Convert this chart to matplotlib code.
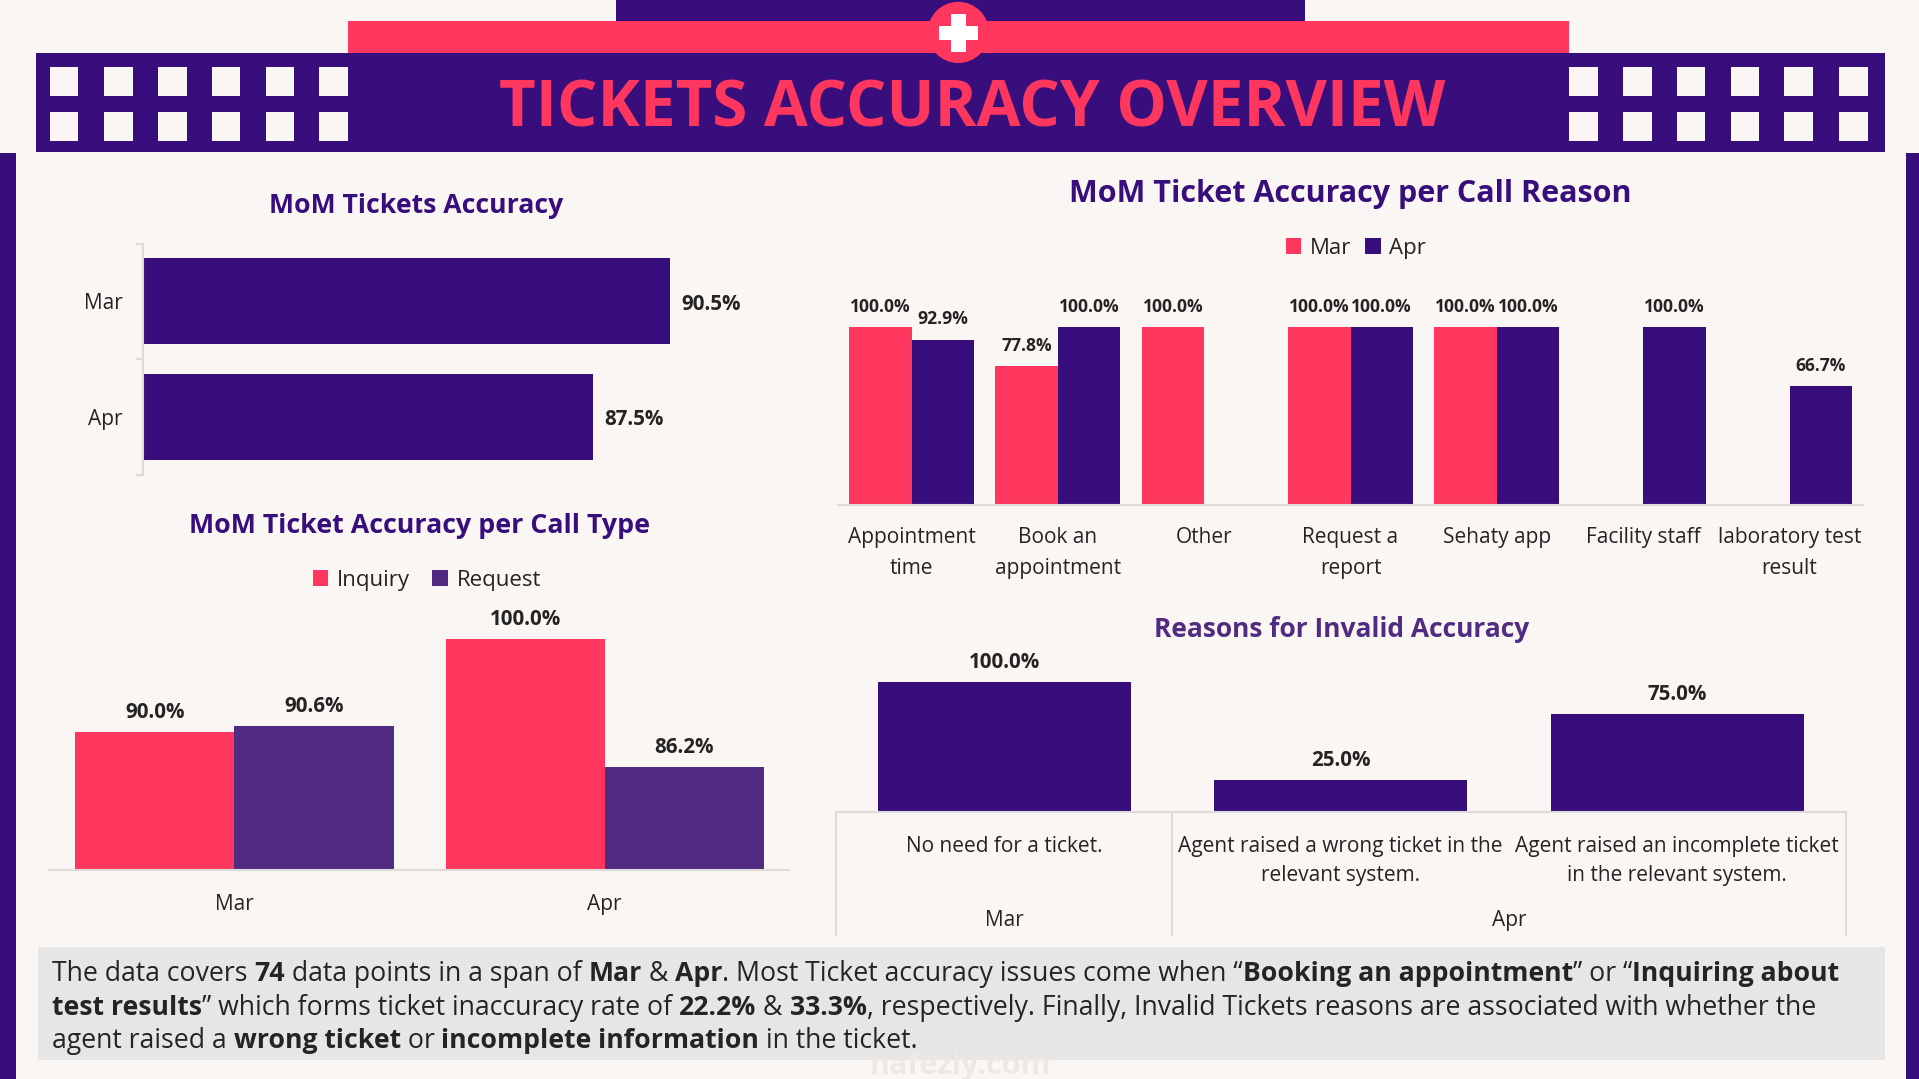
# -*- coding: utf-8 -*-
"""
tickets accuracy overview dashboard
"""
import matplotlib
matplotlib.use('Agg')
import matplotlib.pyplot as plt
import numpy as np
from matplotlib.patches import Rectangle, Ellipse

#####################
# DATA
months = ['Mar', 'Apr']
mom_accuracy = [90.5, 87.5]

call_types = ['Inquiry', 'Request']
inquiry_acc = [90.0, 100.0]
request_acc = [90.6, 86.2]

call_reasons = ['Appointment\ntime', 'Book an\nappointment', 'Other', 'Request a\nreport',
                'Sehaty app', 'Facility staff', 'laboratory test\nresult']
reason_mar = [100.0, 77.8, 100.0, 100.0, 100.0, np.nan, np.nan]
reason_apr = [92.9, 100.0, np.nan, 100.0, 100.0, 100.0, 66.7]

invalid_reasons = ['No need for a ticket.', 'Agent raised a wrong ticket in the\nrelevant system.',
                   'Agent raised an incomplete ticket\nin the relevant system.']
invalid_share = [100.0, 25.0, 75.0]
invalid_months = ['Mar', 'Apr']

summary_lines = [
    [('The data covers ', 0), ('74', 1), (' data points in a span of ', 0), ('Mar', 1), (' & ', 0), ('Apr', 1),
     ('. Most Ticket accuracy issues come when \u201c', 0), ('Booking an appointment', 1), ('\u201d or \u201c', 0),
     ('Inquiring about', 1)],
    [('test results', 1), ('\u201d which forms ticket inaccuracy rate of ', 0), ('22.2%', 1), (' & ', 0), ('33.3%', 1),
     (', respectively. Finally, Invalid Tickets reasons are associated with whether the', 0)],
    [('agent raised a ', 0), ('wrong ticket', 1), (' or ', 0), ('incomplete information', 1),
     (' in the ticket.', 0)],
]
#####################
# STYLE
PURPLE = '#380E7C'
PINK = '#FF375F'
PURPLE2 = '#512B81'
BG = '#FAF6F3'
GREY = '#DDDAD8'
TXT = '#252423'
W, H = 1568.0, 1568.0 * 1079 / 1919

plt.rcParams['font.family'] = ['Open Sans', 'DejaVu Sans']

fig = plt.figure(figsize=(19.19, 10.79), dpi=100, facecolor=BG)


def box(x0, y0, x1, y1):
    # axes placed with picture coordinates (y going down)
    a = fig.add_axes([x0 / W, 1 - y1 / H, (x1 - x0) / W, (y1 - y0) / H])
    a.patch.set_alpha(0)
    for s in a.spines.values():
        s.set_visible(False)
    return a


bg = box(0, 0, W, H)
bg.set_xlim(0, W)
bg.set_ylim(H, 0)
bg.axis('off')


def rect(x0, y0, x1, y1, c):
    bg.add_patch(Rectangle((x0, y0), x1 - x0, y1 - y0, fc=c, ec='none'))


###########
# header
rect(503, 0, 1066, 18, PURPLE)
rect(284, 17, 1282, 44, PINK)
rect(29.5, 43, 1540, 124, PURPLE)
rect(0, 125, 13, H, PURPLE)
rect(1557, 125, W, H, PURPLE)
for y0 in [54.7, 91.5]:
    for x0 in [40.6, 85, 129, 173, 217, 261]:
        rect(x0, y0, x0 + 23.5, y0 + 23.7, BG)
    for x0 in [1282, 1326, 1370, 1414, 1458, 1503]:
        rect(x0, y0, x0 + 23.5, y0 + 23.7, BG)
bg.add_patch(Ellipse((783, 26.5), 50, 50, fc=PINK, ec='none'))
rect(767, 21, 799, 33, 'white')
rect(777, 11.5, 789, 42.5, 'white')
bg.text(794, 90, 'TICKETS ACCURACY OVERVIEW', color=PINK, fontsize=45.8, fontweight='bold', ha='center', va='center')

###########
# summary box
rect(31, 774, 1540, 866, '#E6E6E6')
bg.text(785, 871, 'nafezly.com', color='#ECE8E6', fontsize=22, fontweight='bold', ha='center', va='center')
renderer = fig.canvas.get_renderer()


def run_width(s, bold):
    # outer x keeps leading/trailing spaces in the measure
    w = {}
    for k, t in [('a', 'x' + s + 'x'), ('b', 'xx')]:
        tx = bg.text(0, 0, t, fontsize=SUM_FS, fontweight='bold' if bold else 'normal')
        w[k] = tx.get_window_extent(renderer).width
        tx.remove()
    return (w['a'] - w['b']) * W / 1919


SUM_FS = 19.2
for line, yc in zip(summary_lines, [793, 821, 848]):
    x = 42.5
    for s, bold in line:
        bg.text(x, yc, s, fontsize=SUM_FS, fontweight='bold' if bold else 'normal', color=TXT,
                va='center_baseline', ha='left')
        x += run_width(s, bold)

###########
# titles
title_kw = dict(color=PURPLE, fontweight='bold', ha='center', va='center')
bg.text(340, 168, 'MoM Tickets Accuracy', fontsize=19.2, **title_kw)
bg.text(343, 430, 'MoM Ticket Accuracy per Call Type', fontsize=19.3, **title_kw)
bg.text(1103, 158.5, 'MoM Ticket Accuracy per Call Reason', fontsize=22, **title_kw)
bg.text(1096, 514, 'Reasons for Invalid Accuracy', fontsize=19, color=PURPLE2, fontweight='bold', ha='center', va='center')

###########
# MoM tickets accuracy
ax1 = box(117, 199, 117 + 25 * 21, 388)
ax1.barh(range(2), mom_accuracy, left=0, height=0.745, color=PURPLE)
ax1.set_xlim(70, 95)
ax1.set_ylim(1.5, -0.5)
ax1.set_xticks([])
ax1.set_yticks(range(2))
ax1.set_yticklabels(months, fontsize=15, color=TXT)
ax1.tick_params(axis='y', length=0, pad=15)
ax1.set_yticks([-0.5, 0.5, 1.5], minor=True)
ax1.tick_params(axis='y', which='minor', length=5, color=GREY, width=1.5)
ax1.spines['left'].set_visible(True)
ax1.spines['left'].set_color(GREY)
ax1.spines['left'].set_linewidth(1.5)
for i, v in enumerate(mom_accuracy):
    ax1.annotate('%.1f%%' % v, (v, i), xytext=(8, -2), textcoords='offset points', va='center', ha='left',
                 fontsize=14.8, fontweight='bold', color=TXT)

###########
# per call type
ax2 = box(40, 500, 645, 711)
x2 = np.arange(2) + 0.001
bw = 130 / 302.5
b1 = ax2.bar(x2 - bw / 2, inquiry_acc, bw, color=PINK, label=call_types[0])
b2 = ax2.bar(x2 + bw / 2, request_acc, bw, color=PURPLE2, label=call_types[1])
ax2.set_xlim(-0.5, 1.5)
ax2.set_ylim(75, 75 + 211 / 7.55)
ax2.set_yticks([])
ax2.set_xticks(x2)
ax2.set_xticklabels(months, fontsize=15, color=TXT)
ax2.tick_params(axis='x', length=0, pad=17)
ax2.spines['bottom'].set_visible(True)
ax2.spines['bottom'].set_color(GREY)
ax2.spines['bottom'].set_linewidth(1.5)
for rects in [b1, b2]:
    ax2.bar_label(rects, fmt='%.1f%%', padding=6.5, fontsize=14.8, fontweight='bold', color=TXT)
ax2.legend(loc='center', bbox_to_anchor=(349 / W, 1 - 474 / H), bbox_transform=fig.transFigure, ncol=2, frameon=False,
           fontsize=16, handlelength=0.7, handleheight=0.7, handletextpad=0.4, columnspacing=1.0, labelcolor=TXT)

###########
# per call reason
ax3 = box(685, 240.6, 1522, 412.6)
x3 = np.arange(len(call_reasons))
bw = 51 / 119.6
b1 = ax3.bar(x3 - bw / 2, reason_mar, bw, color=PINK, label=months[0])
b2 = ax3.bar(x3 + bw / 2, reason_apr, bw, color=PURPLE, label=months[1])
ax3.set_xlim(-0.5, len(call_reasons) - 0.5)
ax3.set_ylim(0, 172 / 1.455)
ax3.set_yticks([])
ax3.set_xticks(x3)
ax3.set_xticklabels(call_reasons, fontsize=15, color=TXT, linespacing=1.62)
ax3.tick_params(axis='x', length=0, pad=16)
ax3.spines['bottom'].set_visible(True)
ax3.spines['bottom'].set_color(GREY)
ax3.spines['bottom'].set_linewidth(1.5)
for rects, vals in [(b1, reason_mar), (b2, reason_apr)]:
    labels = ['' if np.isnan(v) else '%.1f%%' % v for v in vals]
    ax3.bar_label(rects, labels=labels, padding=8, fontsize=12.6, fontweight='bold', color=TXT)
ax3.legend(loc='center', bbox_to_anchor=(1108 / W, 1 - 203 / H), bbox_transform=fig.transFigure, ncol=2, frameon=False,
           fontsize=16, handlelength=0.7, handleheight=0.7, handletextpad=0.4, columnspacing=0.6, labelcolor=TXT)

###########
# invalid reasons
ax4 = box(683, 530.6, 1508, 663.6)
x4 = np.arange(3)
b4 = ax4.bar(x4, invalid_share, 207 / 275.0, color=PURPLE)
ax4.set_xlim(-0.5, 2.5)
ax4.set_ylim(0, 133 / 1.065)
ax4.set_yticks([])
ax4.set_xticks(x4)
ax4.set_xticklabels(invalid_reasons, fontsize=15, color=TXT, linespacing=1.5)
ax4.tick_params(axis='x', length=0, pad=17)
ax4.bar_label(b4, fmt='%.1f%%', padding=6.5, fontsize=14.8, fontweight='bold', color=TXT)
ax4.spines['bottom'].set_visible(True)
ax4.spines['bottom'].set_color(GREY)
ax4.spines['bottom'].set_linewidth(1.5)
trans = ax4.get_xaxis_transform()
for xv in [-0.5, 0.5, 2.5]:
    ax4.plot([xv, xv], [0, -100 / 133.0], color=GREY, lw=1.5, transform=trans, clip_on=False)
ax4.text(0, -88.5 / 133.0, invalid_months[0], transform=trans, ha='center', va='center', fontsize=15, color=TXT)
ax4.text(1.5, -88.5 / 133.0, invalid_months[1], transform=trans, ha='center', va='center', fontsize=15, color=TXT)

plt.savefig('out.png', dpi=100, facecolor=BG)
